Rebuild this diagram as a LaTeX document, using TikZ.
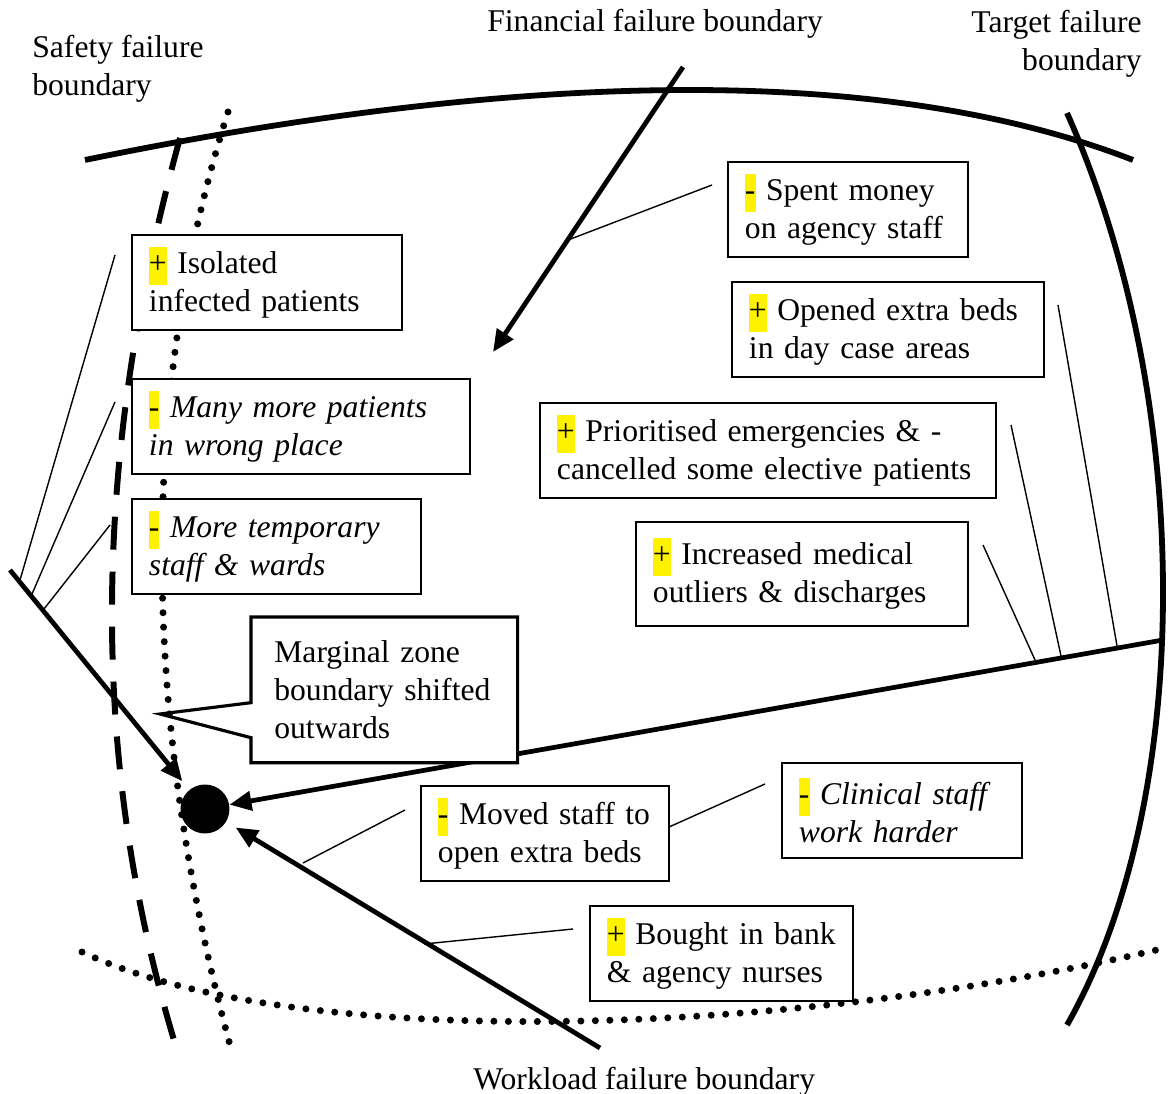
\documentclass[tikz,border=0pt]{standalone}
\usepackage{fontspec}
\setmainfont{Liberation Serif}
\usetikzlibrary{arrows.meta}

\newcommand{\hlplus}{{\setlength{\fboxsep}{0pt}\colorbox{yellow}{\strut+}}}
\newcommand{\hlminus}{{\setlength{\fboxsep}{0pt}\colorbox{yellow}{\strut-}}}

\begin{document}
\begin{tikzpicture}
[x=0.02cm, y=-0.02cm,
      font=\fontsize{18}{21.6}\selectfont,
      box/.style={draw, fill=white, line width=1.1pt, anchor=north west,
      align=left, inner xsep=0.34cm, inner ysep=0pt,
      minimum height=1.9cm, text width=#1},
      title/.style={inner sep=0pt},
      boundary/.style={line width=3.3pt},
      push/.style={line width=2.7pt, -{Triangle[length=0.44cm,width=0.38cm]}},
      link/.style={line width=0.8pt},
      dotline/.style={line width=0.14cm, line cap=round,
      dash pattern=on 0pt off 0.29cm},
      dashline/.style={line width=3.4pt, dash pattern=on 0.66cm off 0.44cm}]
 \useasboundingbox (0,0) rectangle (1173,1094);

 % boundaries
 \draw[boundary] (85,160) .. controls (450,85) and (850,50) .. (1133,160);
 \draw[boundary] (1067,113) .. controls (1195,400) and (1195,800) .. (1067,1025);
 \draw[dashline] (180,138) .. controls (80,500) and (100,800) .. (177,1050);
 \draw[dotline] (228,112) .. controls (130,420) and (150,750) .. (230,1045);
 \draw[dotline] (82,952) .. controls (300,1055) and (800,1035) .. (1165,948);

 \node[circle, fill, minimum size=0.98cm, inner sep=0pt] (dot) at (205,809) {};

 \coordinate (safetyend) at (10,570);
 \coordinate (finstart) at (683,67);
 \coordinate (finend) at (493,352);
 \coordinate (targetend) at (1163,640);
 \coordinate (workstart) at (600,1048);

 \draw[push] (finstart) -- (finend);
 \draw[push, shorten >=0.22cm] (safetyend) -- (dot);
 \draw[push] (targetend) -- (dot);
 \draw[push, shorten >=0.22cm] (workstart) -- (dot);

 % thin links
 \coordinate (s1) at (20,580);  \coordinate (s1t) at (115,255);
 \coordinate (s2) at (32,594);  \coordinate (s2t) at (115,402);
 \coordinate (s3) at (44,609);  \coordinate (s3t) at (110,525);
 \coordinate (f1) at (568,240); \coordinate (f1t) at (712,185);
 \coordinate (t1) at (1117,646); \coordinate (t1t) at (1058,305);
 \coordinate (t2) at (1061,656); \coordinate (t2t) at (1011,425);
 \coordinate (t3) at (1035,660); \coordinate (t3t) at (983,545);
 \coordinate (m1) at (303,863); \coordinate (m1t) at (405,810);
 \coordinate (h1) at (669,827); \coordinate (h1t) at (765,784);
 \coordinate (w1) at (424,944); \coordinate (w1t) at (573,929);
 \foreach \a/\b in {s1/s1t,s2/s2t,s3/s3t,f1/f1t,t1/t1t,t2/t2t,t3/t3t,m1/m1t,h1/h1t,w1/w1t}
  \draw[link] (\a) -- (\b);

 % actions
 \node[box=4.72cm] (iso) at (131,234) {\hlplus{} Isolated\\infected patients};
 \node[box=6.08cm] (wrong) at (131,378)
  {\hlminus{} \textit{Many more patients}\\\textit{in wrong place}};
 \node[box=5.1cm] (temp) at (131,498)
  {\hlminus{} \textit{More temporary}\\\textit{staff \& wards}};
 \node[box=4.12cm] (spent) at (727,161) {\hlminus{} Spent money\\on agency staff};
 \node[box=5.56cm] (beds) at (731,281) {\hlplus{} Opened extra beds\\in day case areas};
 \node[box=8.44cm] (prio) at (539,402)
  {\hlplus{} Prioritised emergencies \& -\\cancelled some elective patients};
 \node[box=5.96cm, minimum height=2.08cm] (outliers) at (635,521)
  {\hlplus{} Increased medical\\outliers \& discharges};
 \node[box=4.28cm] (moved) at (420,785) {\hlminus{} Moved staff to\\open extra beds};
 \node[box=4.12cm] (harder) at (781,762)
  {\hlminus{} \textit{Clinical staff}\\\textit{work harder}};
 \node[box=4.58cm] (bank) at (589,905) {\hlplus{} Bought in bank\\\& agency nurses};

 % callout
 \node[anchor=north west, fill=white, align=left, inner xsep=0.46cm, inner ysep=0pt,
  text width=4.4cm, minimum height=2.9cm] (zone) at (251,617)
  {Marginal zone\\boundary shifted\\outwards};
 \coordinate (zonetip) at (160,714);
 \draw[line width=1.8pt] (zone.north west) -- (zone.north east) -- (zone.south east)
  -- (zone.south west) -- ([yshift=0.5cm]zone.south west) -- (zonetip)
  -- ([yshift=1.2cm]zone.south west) -- cycle;

 \node[title, anchor=north west, align=left] (safety) at (32,35) {Safety failure\\boundary};
 \node[title, anchor=north west] (financial) at (487,9) {Financial failure boundary};
 \node[title, anchor=north east, align=right] (target) at (1142,10) {Target failure\\boundary};
 \node[title, anchor=north west] (workload) at (473,1067) {Workload failure boundary};
\end{tikzpicture}
\end{document}
